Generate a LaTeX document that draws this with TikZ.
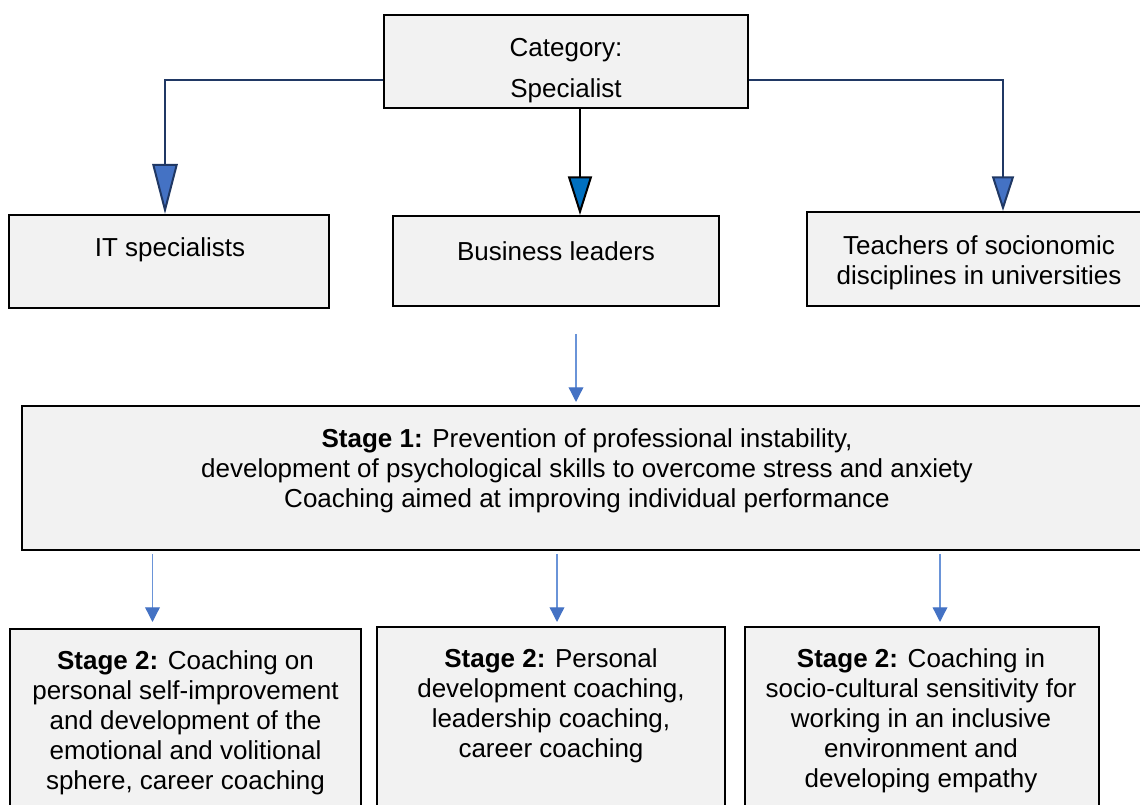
\documentclass[tikz,border=0pt]{standalone}
\usepackage{fontspec}
\setmainfont{Liberation Sans}
\usetikzlibrary{arrows.meta,calc}
\definecolor{boxfill}{HTML}{F2F2F2}
\definecolor{navy}{HTML}{203864}
\definecolor{midblue}{HTML}{4472C4}
\definecolor{brightblue}{HTML}{0070C0}
\definecolor{lineblue}{HTML}{6A94D8}
\begin{document}
\begin{tikzpicture}[x=0.75pt,y=-0.75pt,
  box/.style={draw=black, line width=1.5pt, fill=boxfill, inner sep=0pt},
  txt/.style={align=center, font=\fontsize{19.5}{22.5}\selectfont, inner sep=0pt},
  sidearrow/.style={draw=navy, line width=1.5pt, line join=miter},
  thinarrow/.style={draw=lineblue, line width=1pt,
    -{Triangle[length=11pt,width=11pt,fill=midblue,color=midblue]}}]
\useasboundingbox (0,0) rectangle (1140,805);
\clip (0,0) rectangle (1140,805);

% top category
\node[box, minimum width=364*0.75pt, minimum height=93*0.75pt] (cat) at (566,61.5) {};
\node[txt] (catT) at (566,70.5) {Category:\\[8pt]Specialist};

% groups of specialists
\node[box, minimum width=320*0.75pt, minimum height=93*0.75pt] (it) at (169,261.5) {};
\node[txt] (itT) at (170,250) {IT specialists};
\node[box, minimum width=326*0.75pt, minimum height=90*0.75pt] (bl) at (556,261) {};
\node[txt] (blT) at (556,251) {Business leaders};
\node[box, minimum width=344*0.75pt, minimum height=94*0.75pt] (te) at (979,259) {};
\node[txt] (teT) at (979,263) {Teachers of socionomic\\disciplines in universities};

% stage 1
\node[box, minimum width=1130*0.75pt, minimum height=144*0.75pt] (s1) at (587,478) {};
\node[txt] (s1T) at (587,470.5) {\textbf{Stage 1:} Prevention of professional instability,\\
  development of psychological skills to overcome stress and anxiety\\
  Coaching aimed at improving individual performance};

% stage 2 variants
\node[box, minimum width=351*0.75pt, minimum height=220*0.75pt, anchor=north] (a2) at (185.5,628) {};
\node[txt] (a2T) at (185.5,723) {\textbf{Stage 2:} Coaching on\\personal self-improvement\\
  and development of the\\emotional and volitional\\sphere, career coaching};
\node[box, minimum width=348*0.75pt, minimum height=220*0.75pt, anchor=north] (b2) at (551,626) {};
\node[txt] (b2T) at (551,706) {\textbf{Stage 2:} Personal\\development coaching,\\
  leadership coaching,\\career coaching};
\node[box, minimum width=354*0.75pt, minimum height=220*0.75pt, anchor=north] (c2) at (922,626) {};
\node[txt] (c2T) at (921,721) {\textbf{Stage 2:} Coaching in\\socio-cultural sensitivity for\\
  working in an inclusive\\environment and\\developing empathy};

% connectors from the category
\draw[sidearrow, -{Triangle[length=37.5pt,width=19pt,fill=midblue]}]
  ($(cat.west)+(0,18.5)$) -| ($(it.north)+(-4,0)$);
\draw[draw=black, line width=1.5pt, -{Triangle[length=29pt,width=18pt,fill=brightblue]}]
  ($(cat.south)+(14,0)$) -- ($(bl.north)+(24,0)$);
\draw[sidearrow, -{Triangle[length=26pt,width=16.5pt,fill=midblue]}]
  ($(cat.east)+(0,18.5)$) -| ($(te.north)+(24,0)$);

% into stage 1 and on to stage 2
\coordinate (in1) at (576,334);
\draw[thinarrow] (in1) -- ($(s1.north)+(-11,-3)$);
\draw[thinarrow, shorten >=4.5pt] ($(s1.south)+(-434.5,3)$) -- ($(a2.north)+(-33,0)$);
\draw[thinarrow, shorten >=3pt] ($(s1.south)+(-30,3)$) -- ($(b2.north)+(6,0)$);
\draw[thinarrow, shorten >=3pt] ($(s1.south)+(353,3)$) -- ($(c2.north)+(18,0)$);
\end{tikzpicture}
\end{document}
